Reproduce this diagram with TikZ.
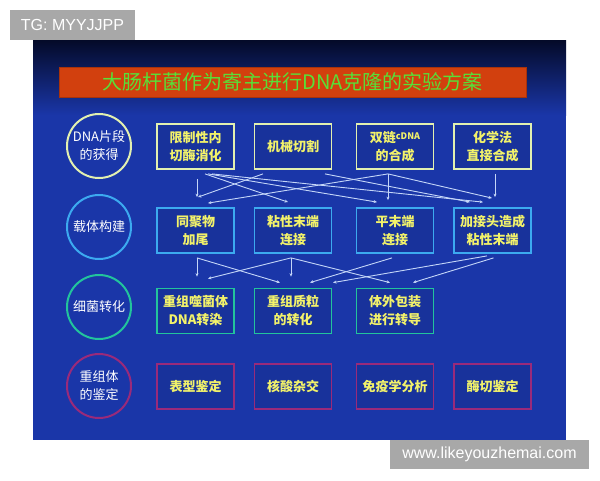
\documentclass[tikz,border=0pt]{standalone}
\usepackage{fontspec}
\setmainfont{Liberation Sans}
\newfontfamily\cjk{Noto Sans CJK SC}
\usetikzlibrary{arrows.meta}
\definecolor{bgblue}{HTML}{1A36A8}
\definecolor{bgdark}{HTML}{040A28}
\definecolor{wmgray}{HTML}{A8A8A8}
\definecolor{titlered}{HTML}{D2400E}
\definecolor{titlegreen}{HTML}{58E038}
\definecolor{txtyellow}{HTML}{F2F26A}
\definecolor{rowA}{HTML}{E2F0B0}
\definecolor{rowB}{HTML}{3CAAF0}
\definecolor{rowC}{HTML}{22C49C}
\definecolor{rowD}{HTML}{9A2A7A}
\definecolor{arrcol}{HTML}{C4D6F8}
\begin{document}
\begin{tikzpicture}[x=1pt,y=-1pt,
  wm/.style={fill=wmgray,text=white,inner sep=0pt,font=\fontsize{16}{16}\selectfont},
  circ/.style={circle,line width=2pt,minimum size=64pt,inner sep=0pt,text=white,align=center,
    font=\cjk\fontsize{13}{18}\selectfont},
  bx/.style={rectangle,line width=1.8pt,minimum width=77pt,minimum height=45pt,inner sep=0pt,
    fill=bgblue!92!black,text=txtyellow,align=center,font=\cjk\bfseries\fontsize{13}{18}\selectfont},
  arr/.style={draw=arrcol,line width=0.9pt,-{Stealth[length=3.5pt,width=3pt]}}]
\useasboundingbox (0,0) rectangle (600,480);
\fill[white] (0,0) rectangle (600,480);
% slide background
\fill[bgblue] (33,40) rectangle (566,440);
\shade[top color=bgdark,bottom color=bgblue] (33,40) rectangle (566,115);
% watermarks
\node[wm,minimum width=125pt,minimum height=30pt] (wm1) at (72.5,25) {TG: MYYJJPP};
\node[wm,minimum width=199pt,minimum height=29pt] (wm2) at (489.5,454.5) {www.likeyouzhemai.com};
% title
\node[fill=titlered,draw=titlered!80!black,line width=0.6pt,minimum width=467pt,minimum height=30pt,inner sep=0pt,
  text=titlegreen,font=\cjk\fontsize{20}{20}\selectfont] (title) at (292.5,82)
  {大肠杆菌作为寄主进行DNA克隆的实验方案};
% circles
\node[circ,draw=rowA] (k1) at (99,146) {DNA片段\\的获得};
\node[circ,draw=rowB] (k2) at (99,227) {载体构建};
\node[circ,draw=rowC] (k3) at (99,307) {细菌转化};
\node[circ,draw=rowD] (k4) at (99,386) {重组体\\的鉴定};
% row 1
\node[bx,draw=rowA] (r1c1) at (195.5,146.5) {限制性内\\切酶消化};
\node[bx,draw=rowA] (r1c2) at (293,146.5) {机械切割};
\node[bx,draw=rowA] (r1c3) at (395,146.5) {双链\raisebox{3pt}{\fontsize{9}{9}\selectfont cDNA}\\的合成};
\node[bx,draw=rowA] (r1c4) at (492.5,146.5) {化学法\\直接合成};
% row 2
\node[bx,draw=rowB] (r2c1) at (195.5,230.5) {同聚物\\加尾};
\node[bx,draw=rowB] (r2c2) at (293,230.5) {粘性末端\\连接};
\node[bx,draw=rowB] (r2c3) at (395,230.5) {平末端\\连接};
\node[bx,draw=rowB] (r2c4) at (492.5,230.5) {加接头造成\\粘性末端};
% row 3
\node[bx,draw=rowC] (r3c1) at (195.5,311) {重组噬菌体\\DNA转染};
\node[bx,draw=rowC] (r3c2) at (293,311) {重组质粒\\的转化};
\node[bx,draw=rowC] (r3c3) at (395,311) {体外包装\\进行转导};
% row 4
\node[bx,draw=rowD] (r4c1) at (195.5,386.5) {表型鉴定};
\node[bx,draw=rowD] (r4c2) at (293,386.5) {核酸杂交};
\node[bx,draw=rowD] (r4c3) at (395,386.5) {免疫学分析};
\node[bx,draw=rowD] (r4c4) at (492.5,386.5) {酶切鉴定};
% arrows: DNA fragments -> vector construction
\draw[arr] ([xshift=1.5pt,yshift=-9pt]r1c1.south) -- ([xshift=1.5pt,yshift=10pt]r2c1.north);
\draw[arr] ([xshift=9.5pt,yshift=-4pt]r1c1.south) -- ([xshift=-5pt,yshift=5pt]r2c2.north);
\draw[arr] ([xshift=12.5pt,yshift=-4pt]r1c1.south) -- ([xshift=-18pt,yshift=5pt]r2c3.north);
\draw[arr] ([xshift=16.5pt,yshift=-4pt]r1c1.south) -- ([xshift=-9.5pt,yshift=5pt]r2c4.north);
\draw[arr] ([xshift=-30pt,yshift=-4pt]r1c2.south) -- ([xshift=2.5pt,yshift=10pt]r2c1.north);
\draw[arr] ([xshift=32pt,yshift=-4pt]r1c2.south) -- ([xshift=-22.5pt,yshift=5pt]r2c4.north);
\draw[arr] ([xshift=-7pt,yshift=-4pt]r1c3.south) -- ([xshift=-7pt,yshift=7pt]r2c3.north);
\draw[arr] ([xshift=-7pt,yshift=-4pt]r1c3.south) -- ([xshift=12.5pt,yshift=4pt]r2c1.north);
\draw[arr] ([xshift=-7pt,yshift=-4pt]r1c3.south) -- ([xshift=-0.5pt,yshift=9pt]r2c4.north);
\draw[arr] ([xshift=2.5pt,yshift=-4pt]r1c4.south) -- ([xshift=2.5pt,yshift=10pt]r2c4.north);
% arrows: vector construction -> transformation
\draw[arr] ([xshift=1.5pt,yshift=-4pt]r2c1.south) -- ([xshift=1.5pt,yshift=11pt]r3c1.north);
\draw[arr] ([xshift=1.5pt,yshift=-4pt]r2c1.south) -- ([xshift=-13pt,yshift=5pt]r3c2.north);
\draw[arr] ([xshift=-2pt,yshift=-4pt]r2c2.south) -- ([xshift=-2pt,yshift=11pt]r3c2.north);
\draw[arr] ([xshift=-2pt,yshift=-4pt]r2c2.south) -- ([xshift=12.5pt,yshift=9pt]r3c1.north);
\draw[arr] ([xshift=-2pt,yshift=-4pt]r2c2.south) -- ([xshift=-5pt,yshift=5pt]r3c3.north);
\draw[arr] ([xshift=-3pt,yshift=-4pt]r2c3.south) -- ([xshift=17pt,yshift=5pt]r3c2.north);
\draw[arr] ([xshift=-5.5pt,yshift=-2pt]r2c4.south) -- ([xshift=40pt,yshift=5pt]r3c2.north);
\draw[arr] ([xshift=1pt,yshift=-4pt]r2c4.south) -- ([xshift=18pt,yshift=5pt]r3c3.north);
\end{tikzpicture}
\end{document}
